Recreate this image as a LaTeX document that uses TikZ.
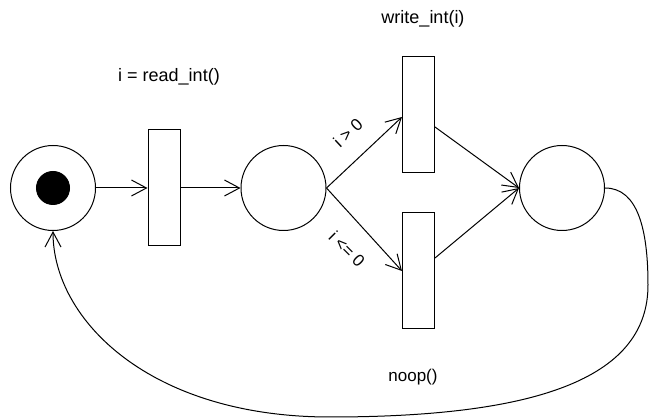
\documentclass[tikz,border=0pt]{standalone}
\usepackage{fontspec}
\setmainfont{Liberation Sans}
\usetikzlibrary{arrows.meta}
\begin{document}
\begin{tikzpicture}[x=1pt,y=-1pt,line width=1pt,
  place/.style={draw,circle,minimum size=85pt,inner sep=0pt},
  trans/.style={draw,rectangle,minimum width=32pt,minimum height=116pt,inner sep=0pt},
  lbl/.style={font=\fontsize{17}{19}\selectfont,inner sep=0pt},
  biglbl/.style={font=\fontsize{18}{20}\selectfont,inner sep=0pt},
  arc/.style={-{Straight Barb[length=15pt,width=16pt,line width=1pt]}}]
\useasboundingbox (0,0) rectangle (649,419);
\node[place] (p1) at (53,188) {};
\node[draw,circle,fill=black,minimum size=33pt,inner sep=0pt] (tok) at (53,188) {};
\node[trans] (t1) at (164,188) {};
\node[place] (p2) at (283.5,188) {};
\node[trans] (t2) at (418.5,115) {};
\node[trans] (t3) at (418.5,271) {};
\node[place] (p3) at (562,188) {};
\node[biglbl] (l1) at (169,77) {i = read\_int()};
\node[biglbl] (l2) at (423,19) {write\_int(i)};
\node[lbl] (l3) at (413,377) {noop()};
\node[lbl,rotate=43] (l4) at (348,133) {i > 0};
\node[lbl,rotate=-45] (l5) at (347,249) {i <= 0};
\draw[arc] (p1.east) -- (t1.west);
\draw[arc] (t1.east) -- (p2.west);
\draw[arc] (p2.east) -- (t2.west |- 0,117);
\draw[arc] (p2.east) -- (t3.west |- 0,271);
\draw[arc] (t2.east |- 0,127) -- (p3.west);
\draw[arc] (t3.east |- 0,258) -- (p3.west);
\coordinate (r) at (648,285);
\coordinate (b) at (330,417);
\draw[arc] (p3.east) .. controls (638,188) and (648,230) .. (r)
  .. controls (648,375) and (545,417) .. (b)
  .. controls (150,417) and (53,320) .. (p1.south);
\end{tikzpicture}
\end{document}
